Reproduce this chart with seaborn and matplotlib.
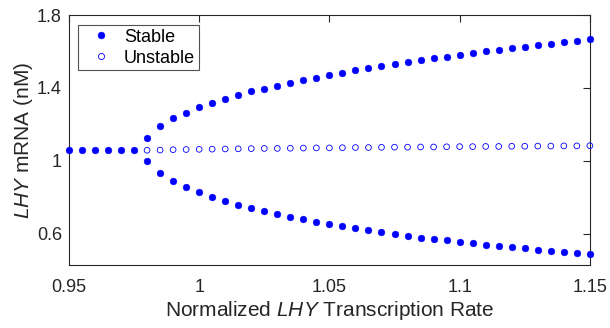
import numpy as np
import pandas as pd
import matplotlib
matplotlib.use("Agg")
import matplotlib.pyplot as plt
from matplotlib.lines import Line2D
import seaborn as sns

# --- data ---
rate_pre = [0.95, 0.955, 0.96, 0.965, 0.97, 0.975]
level_pre = [1.058, 1.058, 1.058, 1.058, 1.058, 1.058]

rate_post = [0.98, 0.985, 0.99, 0.995, 1.0, 1.005, 1.01, 1.015, 1.02, 1.025,
             1.03, 1.035, 1.04, 1.045, 1.05, 1.055, 1.06, 1.065, 1.07, 1.075,
             1.08, 1.085, 1.09, 1.095, 1.1, 1.105, 1.11, 1.115, 1.12, 1.125,
             1.13, 1.135, 1.14, 1.145, 1.15]
upper_stable = [1.123, 1.191, 1.234, 1.265, 1.295, 1.317, 1.342, 1.359, 1.381, 1.396,
                1.413, 1.429, 1.444, 1.457, 1.470, 1.483, 1.496, 1.509, 1.519, 1.531,
                1.542, 1.553, 1.562, 1.572, 1.583, 1.592, 1.601, 1.608, 1.618, 1.627,
                1.636, 1.644, 1.651, 1.658, 1.666]
lower_stable = [0.999, 0.932, 0.888, 0.855, 0.827, 0.800, 0.780, 0.757, 0.740, 0.722,
                0.707, 0.693, 0.678, 0.665, 0.654, 0.641, 0.630, 0.619, 0.608, 0.599,
                0.587, 0.578, 0.571, 0.563, 0.556, 0.548, 0.539, 0.532, 0.525, 0.519,
                0.511, 0.506, 0.500, 0.495, 0.488]
unstable = [1.058, 1.059, 1.061, 1.062, 1.063, 1.064, 1.065, 1.066, 1.067, 1.068,
            1.068, 1.069, 1.070, 1.071, 1.071, 1.072, 1.073, 1.073, 1.074, 1.075,
            1.075, 1.076, 1.076, 1.077, 1.078, 1.078, 1.079, 1.079, 1.080, 1.080,
            1.081, 1.081, 1.082, 1.082, 1.083]

x_ticks = [0.95, 1.0, 1.05, 1.1, 1.15]
x_ticklabels = ["0.95", "1", "1.05", "1.1", "1.15"]
y_ticks = [0.6, 1.0, 1.4, 1.8]
y_ticklabels = ["0.6", "1", "1.4", "1.8"]

stable = pd.DataFrame({
    "rate": rate_pre + rate_post + rate_post,
    "level": level_pre + upper_stable + lower_stable,
})
unst = pd.DataFrame({"rate": rate_post, "level": unstable})

# --- style ---
sns.set_style("white")
plt.rcParams["font.family"] = ["Liberation Sans", "DejaVu Sans"]
plt.rcParams["mathtext.fontset"] = "custom"
plt.rcParams["mathtext.it"] = "Liberation Sans:italic"
plt.rcParams["mathtext.rm"] = "Liberation Sans"

FS = 13        # ticks and legend
FS_LABEL = 15  # axis labels
tc = "#262626"
blue = "#0000ff"

fig = plt.figure(figsize=(6.1, 3.28), dpi=100)
ax = fig.add_axes([0.113, 0.192, 0.854, 0.762])

sns.scatterplot(data=stable, x="rate", y="level", ax=ax, marker="o", s=24,
                color=blue, edgecolor=blue, linewidth=0.3,
                clip_on=False, zorder=3, legend=False)
sns.scatterplot(data=unst, x="rate", y="level", ax=ax, marker="o", s=17,
                facecolor="none", edgecolor=blue, linewidth=0.6,
                clip_on=False, zorder=3, legend=False)

ax.set_xlim(0.95, 1.15)
ax.set_ylim(0.428, 1.8)
ax.set_xticks(x_ticks)
ax.set_xticklabels(x_ticklabels)
ax.set_yticks(y_ticks)
ax.set_yticklabels(y_ticklabels)

for s in ax.spines.values():
    s.set_visible(True)
    s.set_color(tc)
    s.set_linewidth(0.8)
ax.tick_params(direction="in", length=5, width=0.8, colors=tc,
               labelsize=FS, top=True, right=True)
ax.tick_params(axis="x", pad=10)
ax.tick_params(axis="y", pad=5)

ax.set_xlabel(r"Normalized $\mathit{LHY}$ Transcription Rate", fontsize=FS_LABEL,
              color=tc, labelpad=2)
ax.set_ylabel(r"$\mathit{LHY}$ mRNA (nM)", fontsize=FS_LABEL, color=tc, labelpad=1)

handles = [
    Line2D([], [], linestyle="none", marker="o", markersize=5,
           markerfacecolor=blue, markeredgecolor=blue, markeredgewidth=0.3),
    Line2D([], [], linestyle="none", marker="o", markersize=4.4,
           markerfacecolor="none", markeredgecolor=blue, markeredgewidth=0.6),
]
leg = ax.legend(handles, ["Stable", "Unstable"], loc="upper left",
                bbox_to_anchor=(0.0173, 0.96), borderaxespad=0, numpoints=1,
                fontsize=FS, frameon=True, fancybox=False, edgecolor=tc,
                handletextpad=0.15, borderpad=0.2, labelspacing=0.22,
                handlelength=2.2)
leg.get_frame().set_linewidth(0.8)
for t in leg.get_texts():
    t.set_color("black")

fig.savefig("out.png", dpi=100)
